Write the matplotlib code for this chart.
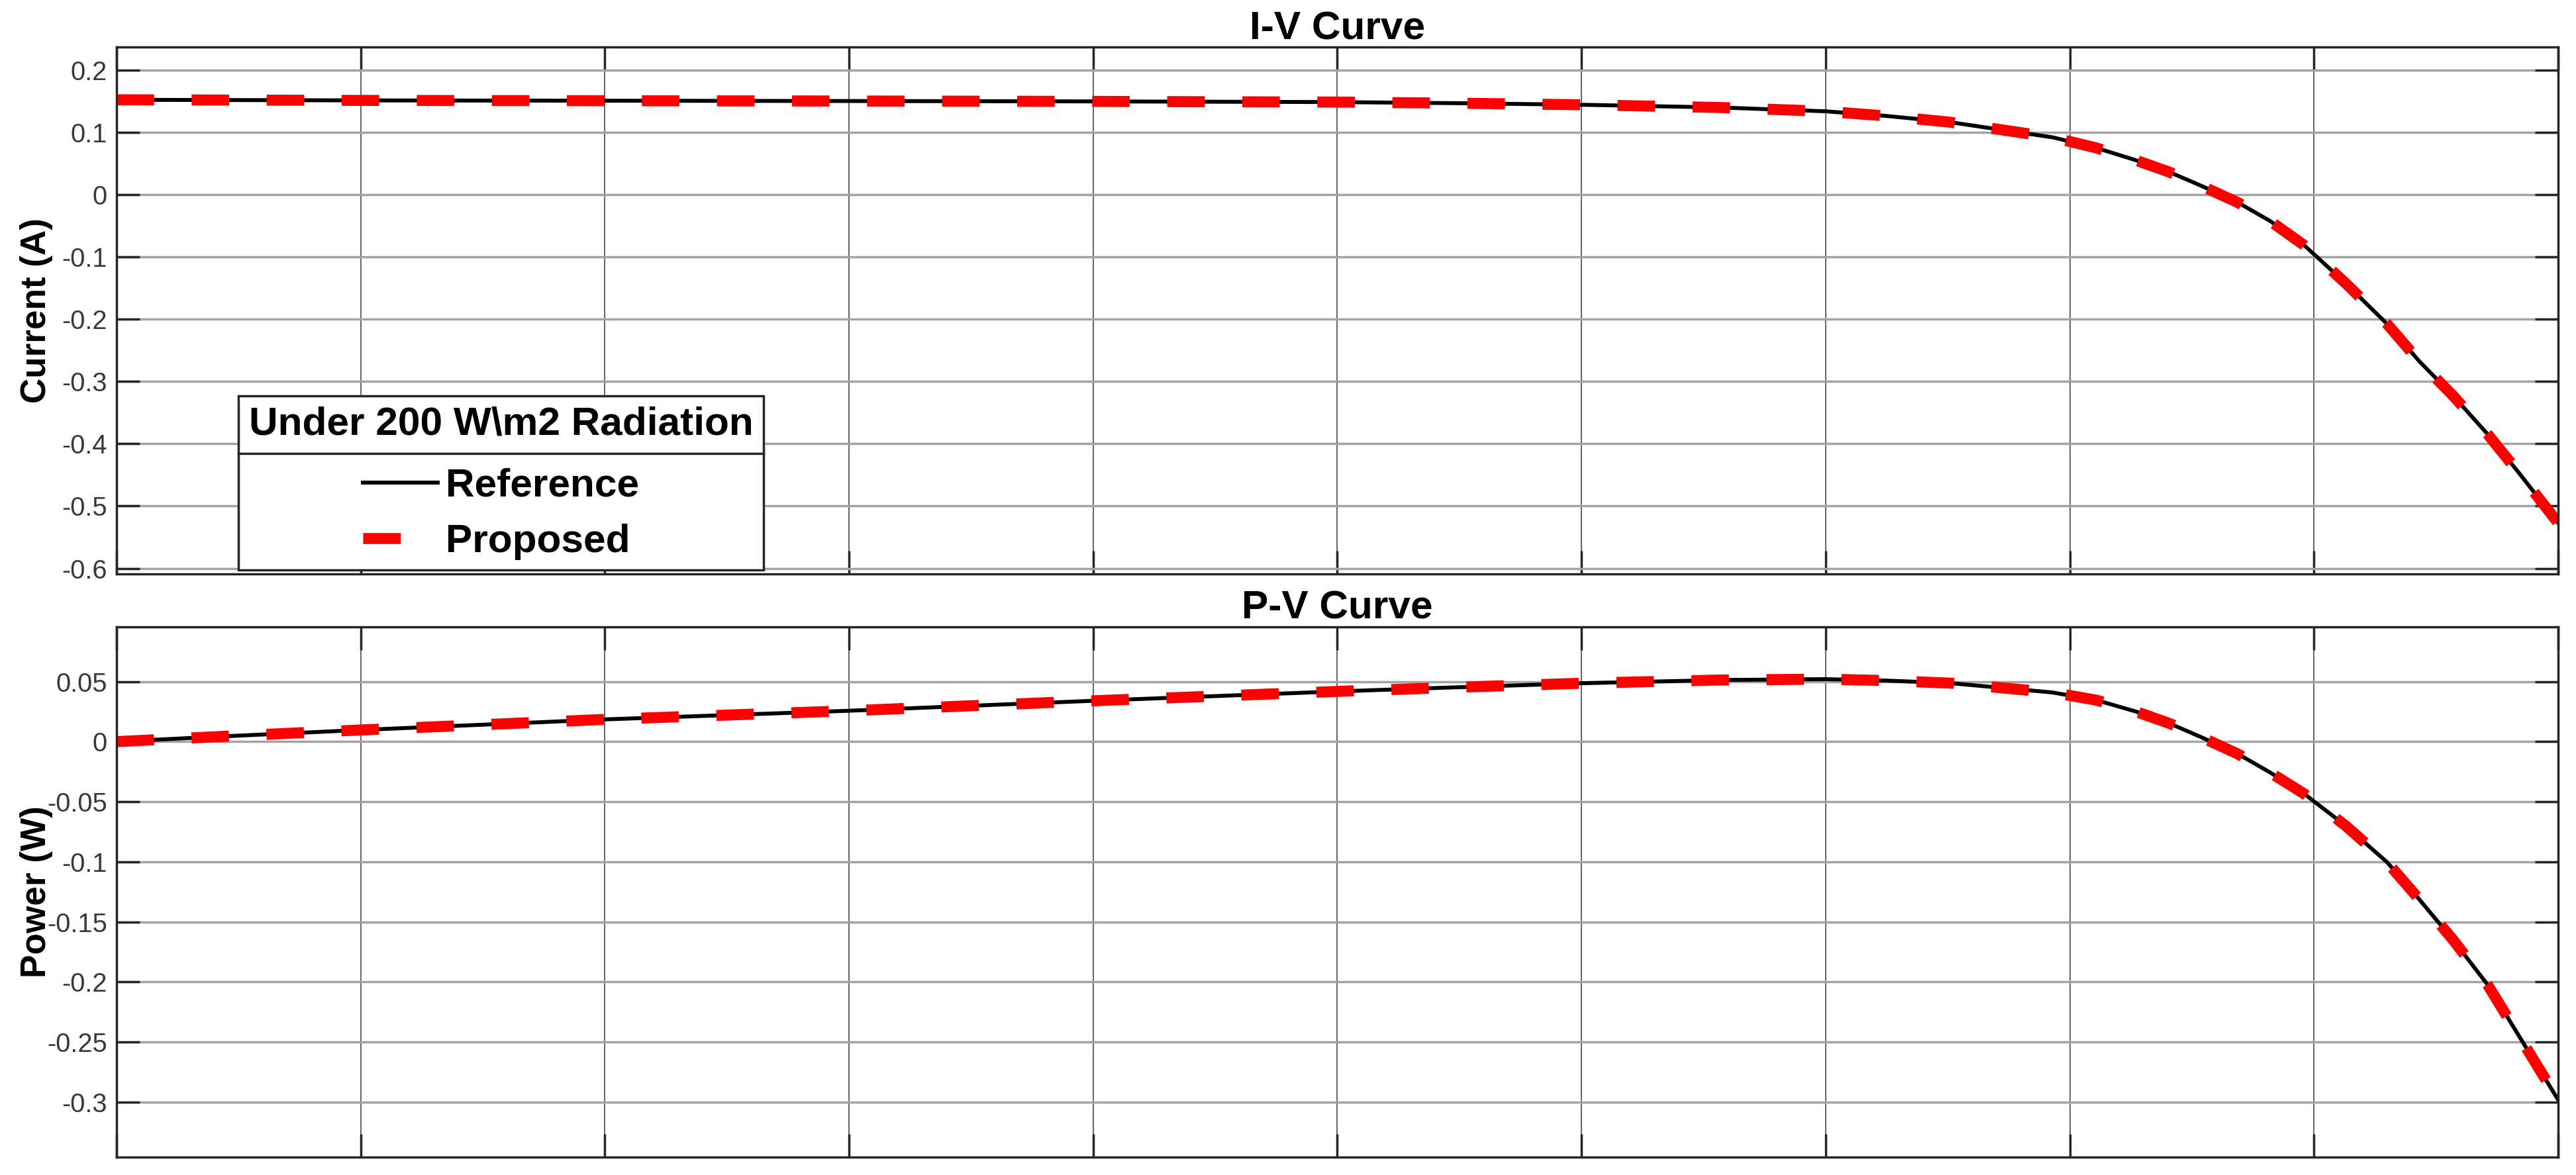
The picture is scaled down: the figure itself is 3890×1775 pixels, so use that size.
"""I-V and P-V curves under 200 W/m2, reference vs proposed model (MATLAB-style look)."""

import matplotlib

matplotlib.use("Agg")
import matplotlib.pyplot as plt  # noqa: E402
from matplotlib.lines import Line2D  # noqa: E402
from matplotlib.ticker import FuncFormatter, MultipleLocator  # noqa: E402

# x positions in grid units (the original shows no x tick labels)
voltage = [0, 0.5, 1, 2, 3, 4, 5, 5.5, 6, 6.57, 7, 7.25, 7.51, 7.93, 8.11, 8.27,
           8.41, 8.54, 8.69, 8.82, 8.96, 9.13, 9.30, 9.43, 9.57, 9.71, 9.84, 10]

current_ref = [0.152, 0.1515, 0.151, 0.1505, 0.150, 0.1494, 0.1483, 0.1465, 0.144,
               0.1396, 0.1335, 0.126, 0.116, 0.0917, 0.0746, 0.0551, 0.0356, 0.0137,
               -0.0132, -0.0424, -0.0815, -0.1424, -0.208, -0.267, -0.323, -0.384,
               -0.447, -0.527]
current_prop = [0.152, 0.1515, 0.151, 0.1505, 0.150, 0.1494, 0.1483, 0.1465, 0.144,
                0.1396, 0.1335, 0.126, 0.116, 0.0917, 0.0746, 0.0551, 0.0356, 0.0137,
                -0.0132, -0.0424, -0.0815, -0.1424, -0.208, -0.267, -0.323, -0.384,
                -0.447, -0.527]

power_ref = [0.0, 0.005, 0.0097, 0.0185, 0.0257, 0.034, 0.0418, 0.0453, 0.0486,
             0.0513, 0.052, 0.0508, 0.0487, 0.0409, 0.0345, 0.0251, 0.015, 0.0036,
             -0.0104, -0.0256, -0.0434, -0.070, -0.1004, -0.1309, -0.165, -0.2019,
             -0.245, -0.298]
power_prop = [0.0, 0.005, 0.0097, 0.0185, 0.0257, 0.034, 0.0418, 0.0453, 0.0486,
              0.0513, 0.052, 0.0508, 0.0487, 0.0409, 0.0345, 0.0251, 0.015, 0.0036,
              -0.0104, -0.0256, -0.0434, -0.070, -0.1004, -0.1309, -0.165, -0.2019,
              -0.245, -0.298]

FONT = ["Liberation Sans", "DejaVu Sans"]
AX_COLOR = "#262626"
DPI = 250

plt.rcParams["font.family"] = FONT
plt.rcParams["axes.unicode_minus"] = False


def _style_axes(ax, ylim, ystep, title, ylabel, title_pad):
    ax.set_xlim(0, 10)
    ax.set_ylim(*ylim)
    ax.xaxis.set_major_locator(MultipleLocator(1))
    ax.yaxis.set_major_locator(MultipleLocator(ystep))
    ax.yaxis.set_major_formatter(FuncFormatter(lambda v, _: f"{round(v, 3):g}"))
    ax.tick_params(axis="both", which="both", direction="in", top=True, right=True,
                   length=10, width=1.0, color=AX_COLOR, labelcolor="#383838",
                   labelsize=11.5, pad=4, labelbottom=False)
    ax.xaxis.grid(True, color="#606060", linewidth=0.55)
    ax.yaxis.grid(True, color="#a3a3a3", linewidth=1.0)
    for sp in ax.spines.values():
        sp.set_color(AX_COLOR)
        sp.set_linewidth(1.0)
    ax.set_title(title, fontsize=17.4, fontweight="bold", pad=title_pad)
    ax.set_ylabel(ylabel, fontsize=15.3, fontweight="bold")
    ax.yaxis.set_label_coords(-0.026, 0.5)


fig = plt.figure(figsize=(15.56, 7.10), dpi=DPI)
ax_iv = fig.add_axes([0.04524, 0.51155, 0.9478, 0.44845])
ax_pv = fig.add_axes([0.04524, 0.01521, 0.9478, 0.45127])

dash = dict(color="red", linewidth=4.8, linestyle=(0, (3.4, 3.4)), dash_capstyle="butt")
ref = dict(color="black", linewidth=1.7)

ax_iv.plot(voltage, current_ref, label="Reference", **ref)
ax_iv.plot(voltage, current_prop, label="Proposed", **dash)
ax_pv.plot(voltage, power_ref, **ref)
ax_pv.plot(voltage, power_prop, **dash)

_style_axes(ax_iv, (-0.609, 0.2367), 0.1, "I-V Curve", "Current (A)", 1)
_style_axes(ax_pv, (-0.3458, 0.0955), 0.05, "P-V Curve", "Power (W)", 2)

leg = ax_iv.legend(
    title="Under 200 W\\m2 Radiation",
    loc="lower left",
    bbox_to_anchor=(0.0499, 0.007),
    borderaxespad=0,
    frameon=True,
    fancybox=False,
    framealpha=1,
    edgecolor=AX_COLOR,
    prop={"size": 17.4, "weight": "bold"},
    title_fontproperties={"size": 17.4, "weight": "bold"},
    handlelength=1.87,
    handletextpad=0.21,
    borderpad=0.26,
    labelspacing=0.48,
)
leg.get_frame().set_linewidth(1.0)
# wider gap between the title and the entries, as in MATLAB's titled legend
leg._legend_box.sep = 10.9

# MATLAB-style separator between legend title and entries
fig.canvas.draw()
renderer = fig.canvas.get_renderer()
box = leg.get_window_extent(renderer)
tbox = leg.get_title().get_window_extent(renderer)
W, H = fig.bbox.width, fig.bbox.height
sep_y = (tbox.y0 - 16) / H
fig.add_artist(Line2D([box.x0 / W, box.x1 / W], [sep_y, sep_y],
                      color=AX_COLOR, linewidth=1.0, transform=fig.transFigure))

fig.savefig("out.png", dpi=DPI)
plt.close(fig)
